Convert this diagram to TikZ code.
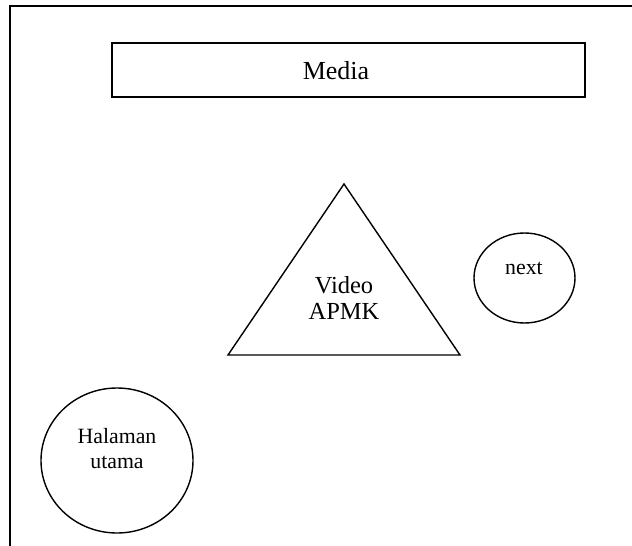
\documentclass[tikz,border=0pt]{standalone}
\usepackage{fontspec}
\setmainfont{Liberation Serif}
\usetikzlibrary{shapes.geometric}
\tikzset{
  outline/.style={draw=black, line width=1.4pt},
  titletext/.style={font=\fontsize{26}{30}\selectfont, inner sep=0pt},
  bigtext/.style={font=\fontsize{24.5}{26}\selectfont, inner sep=0pt, align=center},
  smalltext/.style={font=\fontsize{21.8}{25}\selectfont, inner sep=0pt, align=center},
  btn/.style={outline, ellipse, inner sep=0pt},
}
\begin{document}
\begin{tikzpicture}[x=1pt, y=-1pt]
  \useasboundingbox (0,0) rectangle (632,546);
  % page frame: open at the right and bottom
  \draw[outline] (10,546) -- (10,6) -- (632,6);
  % title bar
  \node[outline, rectangle, minimum width=473pt, minimum height=54pt, inner sep=0pt]
    (media) at (348.5,70) {};
  \node[titletext, anchor=base] (mediatext) at (336,79.3) {Media};
  % video area
  \coordinate (apex) at (344,184);
  \coordinate (baseL) at (228,355);
  \coordinate (baseR) at (460,355);
  \draw[outline, line join=miter] (apex) -- (baseR) -- (baseL) -- cycle;
  \node[bigtext] (video) at (344,298) {Video\\APMK};
  % navigation buttons
  \node[btn, minimum width=101pt, minimum height=90pt] (next) at (524.5,278) {};
  \node[smalltext] (nexttext) at (524,268) {next};
  \node[btn, minimum width=152pt, minimum height=145pt] (home) at (117,460.5) {};
  \node[smalltext] (hometext) at (117,449) {Halaman\\utama};
\end{tikzpicture}
\end{document}
